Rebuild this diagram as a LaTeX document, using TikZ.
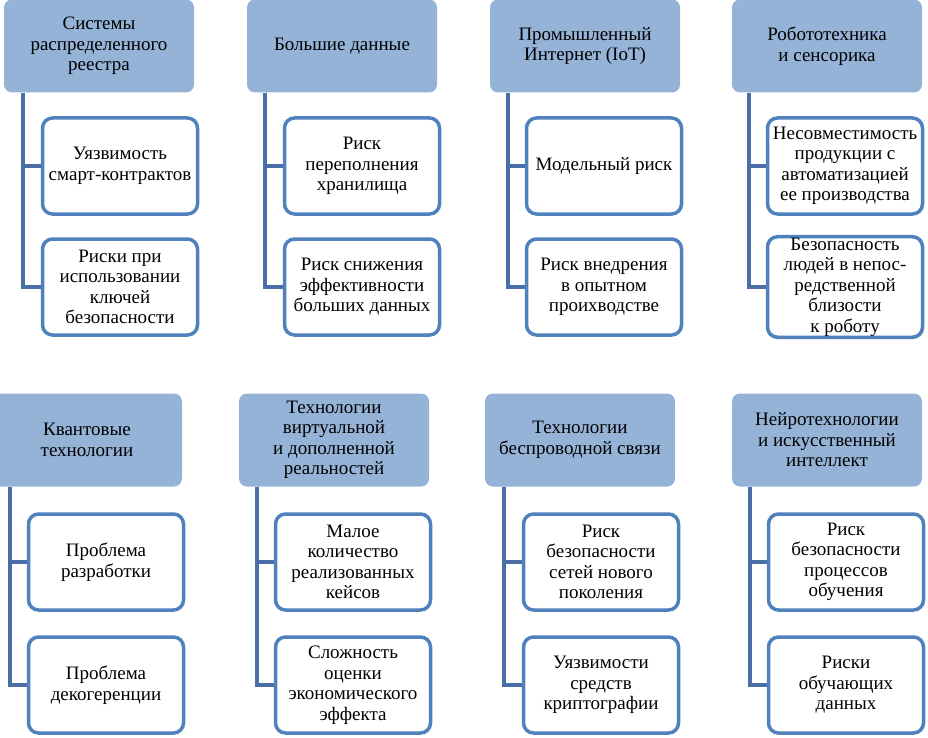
\documentclass[tikz,border=0pt]{standalone}
\usepackage{fontspec}
\setmainfont{Liberation Serif}
\definecolor{headfill}{HTML}{95B3D7}
\definecolor{riskline}{HTML}{4F81BD}
\definecolor{linkline}{HTML}{4A6EA6}

\begin{document}
\begin{tikzpicture}[x=1pt, y=-1pt,
        head/.style = {fill=headfill, rounded corners=8pt, minimum width=190pt, minimum height=93pt, align=center, inner sep=1pt, font=\fontsize{19}{20.5}\selectfont},
        risk/.style = {draw=riskline, line width=3.5pt, rounded corners=10pt, fill=white, minimum width=155pt, minimum height=96pt, align=center, inner sep=1pt, font=\fontsize{19}{20.5}\selectfont},
        link/.style = {draw=linkline, line width=4pt}]
        \useasboundingbox (0,0) rectangle (928,738);
        % top row
        \node[head] (h1) at (99,46) {Системы\\распределенного\\реестра};
        \node[head] (h2) at (342,46) {Большие данные};
        \node[head] (h3) at (585,46) {Промышленный\\Интернет (IoT)};
        \node[head] (h4) at (827,46) {Робототехника\\и сенсорика};
        \node[risk] (r11) at (120,166) {Уязвимость\\смарт-контрактов};
        \node[risk] (r12) at (120,287) {Риски при\\использовании\\ключей\\безопасности};
        \node[risk] (r21) at (362,166) {Риск\\переполнения\\хранилища};
        \node[risk] (r22) at (362,287) {Риск снижения\\эффективности\\больших данных};
        \node[risk] (r31) at (604,166) {Модельный риск};
        \node[risk] (r32) at (604,287) {Риск внедрения\\в опытном\\проихводстве};
        \node[risk] (r41) at (845,166) {Несовместимость\\продукции с\\автоматизацией\\ее производства};
        \node[risk] (r42) at (845,287) {Безопасность\\людей в непос-\\редственной\\близости\\к роботу};
        % bottom row
        \node[head] (h5) at (87,440) {Квантовые\\технологии};
        \node[head] (h6) at (334,440) {Технологии\\виртуальной\\и дополненной\\реальностей};
        \node[head] (h7) at (580,440) {Технологии\\беспроводной связи};
        \node[head] (h8) at (827,440) {Нейротехнологии\\и искусственный\\интеллект};
        \node[risk] (r51) at (106,562) {Проблема\\разработки};
        \node[risk] (r52) at (106,685) {Проблема\\декогеренции};
        \node[risk] (r61) at (353,562) {Малое\\количество\\реализованных\\кейсов};
        \node[risk] (r62) at (353,685) {Сложность\\оценки\\экономического\\эффекта};
        \node[risk] (r71) at (601,562) {Риск\\безопасности\\сетей нового\\поколения};
        \node[risk] (r72) at (601,685) {Уязвимости\\средств\\криптографии};
        \node[risk] (r81) at (846,562) {Риск\\безопасности\\процессов\\обучения};
        \node[risk] (r82) at (846,685) {Риски\\обучающих\\данных};
        % connectors
        \draw[link] ([xshift=19pt]h1.south west) |- (r11.west);
        \draw[link] ([xshift=19pt]h1.south west) |- (r12.west);
        \draw[link] ([xshift=18pt]h2.south west) |- (r21.west);
        \draw[link] ([xshift=18pt]h2.south west) |- (r22.west);
        \draw[link] ([xshift=18pt]h3.south west) |- (r31.west);
        \draw[link] ([xshift=18pt]h3.south west) |- (r32.west);
        \draw[link] ([xshift=17pt]h4.south west) |- (r41.west);
        \draw[link] ([xshift=17pt]h4.south west) |- (r42.west);
        \draw[link] ([xshift=18pt]h5.south west) |- (r51.west);
        \draw[link] ([xshift=18pt]h5.south west) |- (r52.west);
        \draw[link] ([xshift=18pt]h6.south west) |- (r61.west);
        \draw[link] ([xshift=18pt]h6.south west) |- (r62.west);
        \draw[link] ([xshift=19pt]h7.south west) |- (r71.west);
        \draw[link] ([xshift=19pt]h7.south west) |- (r72.west);
        \draw[link] ([xshift=18pt]h8.south west) |- (r81.west);
        \draw[link] ([xshift=18pt]h8.south west) |- (r82.west);
    \end{tikzpicture}
\end{document}
